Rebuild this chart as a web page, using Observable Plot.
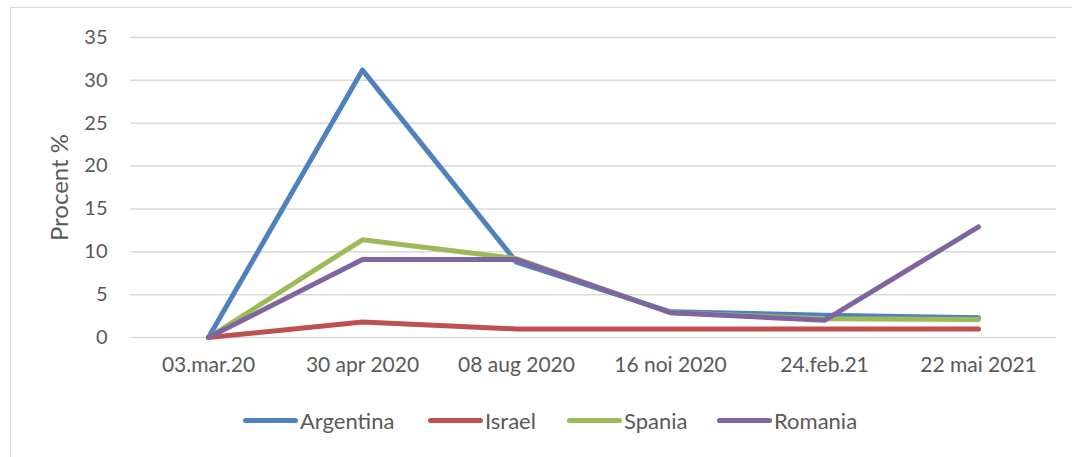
<!DOCTYPE html>
<html>
<head>
<meta charset="utf-8">
<script src="https://cdn.jsdelivr.net/npm/d3@7"></script>
<script src="https://cdn.jsdelivr.net/npm/@observablehq/plot@0.6"></script>
<style>
  html, body { margin: 0; padding: 0; background: #fff; }
  body { width: 1072px; height: 457px; position: relative; overflow: hidden; font-family: Lato, "Open Sans", sans-serif; }
  #frame { position: absolute; left: 10px; top: 7px; width: 1080px; height: 470px; border: 1.5px solid #d9d9d9; box-sizing: border-box; }
  #chart { position: absolute; left: 0; top: 0; }
  #legend { position: absolute; top: 406px; left: 0; width: 1072px; height: 28px; }
  .item { position: absolute; top: 0; display: flex; align-items: center; height: 28px; font-size: 22px; color: #595959; }
  .sw { width: 55px; height: 5px; border-radius: 3px; margin-right: 2px; }
</style>
</head>
<body>
<div id="frame"></div>
<div id="chart"></div>
<div id="legend"></div>
<script>
const dates = ["03.mar.20", "30 apr 2020", "08 aug 2020", "16 noi 2020", "24.feb.21", "22 mai 2021"];
const seriesNames = ["Argentina", "Israel", "Spania", "Romania"];
const seriesColors = ["#4F81BD", "#C0504D", "#9BBB59", "#8064A2"];
const argentina = [0, 31.2, 8.8, 3.0, 2.6, 2.3];
const israel = [0, 1.8, 1.0, 1.0, 1.0, 1.0];
const spania = [0, 11.4, 9.2, 2.9, 2.2, 2.1];
const romania = [0, 9.1, 9.1, 2.9, 2.0, 12.9];
const yTicks = [0, 5, 10, 15, 20, 25, 30, 35];
const yLabel = "Procent %";

const valuesBySeries = [argentina, israel, spania, romania];
const data = [];
seriesNames.forEach((s, i) => {
  dates.forEach((d, j) => data.push({series: s, date: d, value: valuesBySeries[i][j]}));
});

const plot = Plot.plot({
  width: 1072,
  height: 380,
  marginLeft: 130,
  marginRight: 16,
  marginTop: 37,
  marginBottom: 43,
  style: { fontFamily: "Lato, 'Open Sans', sans-serif", fontSize: "20px", color: "#595959", background: "transparent" },
  x: { type: "point", domain: dates, padding: 0.5 },
  y: { domain: [0, 35] },
  color: { domain: seriesNames, range: seriesColors },
  marks: [
    Plot.ruleY(yTicks, { stroke: "#d9d9d9", strokeWidth: 1.5 }),
    Plot.axisY(yTicks, { tickSize: 0, tickPadding: 23, label: null, fill: "#595959", fontSize: 20 }),
    Plot.axisX({ tickSize: 0, tickPadding: 20, label: null, fill: "#595959", fontSize: 21 }),
    Plot.text([yLabel], { text: d => d, frameAnchor: "left", textAnchor: "middle", rotate: -90, dx: -70, fontSize: 24, fill: "#595959" }),
    Plot.line(data, { x: "date", y: "value", z: "series", stroke: "series", strokeWidth: 5, strokeLinejoin: "round", strokeLinecap: "round" })
  ]
});
document.getElementById("chart").appendChild(plot);

const legendX = [243, 428, 567, 717];
const legend = document.getElementById("legend");
seriesNames.forEach((s, i) => {
  const it = document.createElement("div");
  it.className = "item";
  it.style.left = legendX[i] + "px";
  const sw = document.createElement("div");
  sw.className = "sw";
  sw.style.background = seriesColors[i];
  const t = document.createElement("span");
  t.textContent = s;
  it.appendChild(sw);
  it.appendChild(t);
  legend.appendChild(it);
});
</script>
</body>
</html>
